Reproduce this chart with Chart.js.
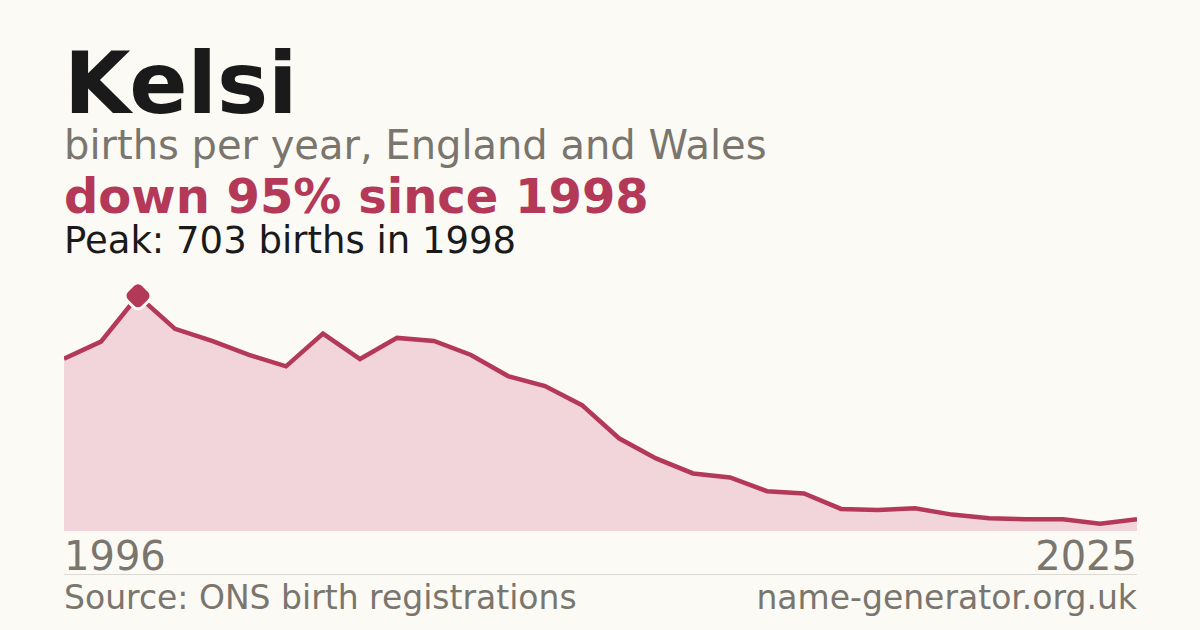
<!DOCTYPE html>
<html>
<head>
<meta charset="utf-8">
<script src="https://cdn.jsdelivr.net/npm/chart.js@4.4.1/dist/chart.umd.min.js"></script>
<style>
  html,body{margin:0;padding:0;}
  body{width:1200px;height:630px;background:#fbfaf5;font-family:"DejaVu Sans",sans-serif;position:relative;overflow:hidden;}
  .t{position:absolute;left:64px;white-space:nowrap;line-height:1;}
  #name{top:40px;font-size:86px;font-weight:bold;color:#1a1a1a;}
  #sub{top:125px;font-size:40px;color:#7a756d;}
  #chg{top:172px;font-size:48px;font-weight:bold;color:#b43858;}
  #peak{top:222px;font-size:37px;color:#1a1a1a;}
  #y0{top:536px;font-size:40px;color:#7a756d;}
  #y1{top:536px;left:auto;right:63px;font-size:40px;color:#7a756d;}
  #rule{position:absolute;left:64px;width:1073px;top:574px;height:1px;background:#dddad3;}
  #src{top:581px;font-size:33px;color:#7a756d;}
  #site{top:581px;left:auto;right:63px;font-size:33px;color:#7a756d;}
  #wrap{position:absolute;left:64px;top:280px;width:1073px;height:251px;}
</style>
</head>
<body>
<div class="t" id="name">Kelsi</div>
<div class="t" id="sub">births per year, England and Wales</div>
<div class="t" id="chg">down 95% since 1998</div>
<div class="t" id="peak">Peak: 703 births in 1998</div>
<div id="wrap"><canvas id="c" width="1073" height="251"></canvas></div>
<div class="t" id="y0"></div>
<div class="t" id="y1"></div>
<div id="rule"></div>
<div class="t" id="src">Source: ONS birth registrations</div>
<div class="t" id="site">name-generator.org.uk</div>
<script>
'use strict';

/* ── data ── */
const years=['1996','1997','1998','1999','2000','2001','2002','2003','2004','2005',
             '2006','2007','2008','2009','2010','2011','2012','2013','2014','2015',
             '2016','2017','2018','2019','2020','2021','2022','2023','2024','2025'];
const births=[515,566,703,604,568,526,492,590,514,577,
              568,526,463,433,376,277,217,172,160,119,
              112,66,63,68,49,38,35,35,22,35];
const yMax=750;

const RED='#b43858';
const peakIdx=births.indexOf(Math.max(...births));

document.getElementById('y0').textContent=years[0];
document.getElementById('y1').textContent=years[years.length-1];

new Chart(document.getElementById('c'),{
  type:'line',
  data:{
    labels:years,
    datasets:[{
      data:births,
      borderColor:RED,
      borderWidth:4.5,
      backgroundColor:'#f2d5db',
      fill:'origin',
      tension:0,
      pointStyle:'rectRounded',
      rotation:45,
      pointRadius:ctx=>ctx.dataIndex===peakIdx?13:0,
      pointBackgroundColor:RED,
      pointBorderColor:'#fbfaf5',
      pointBorderWidth:3,
      pointHoverRadius:0
    }]
  },
  options:{
    responsive:false,
    animation:false,
    devicePixelRatio:1,
    layout:{padding:0},
    plugins:{legend:{display:false},tooltip:{enabled:false}},
    scales:{
      x:{display:false,offset:false},
      y:{display:false,min:0,max:yMax}
    }
  }
});
</script>
</body>
</html>
